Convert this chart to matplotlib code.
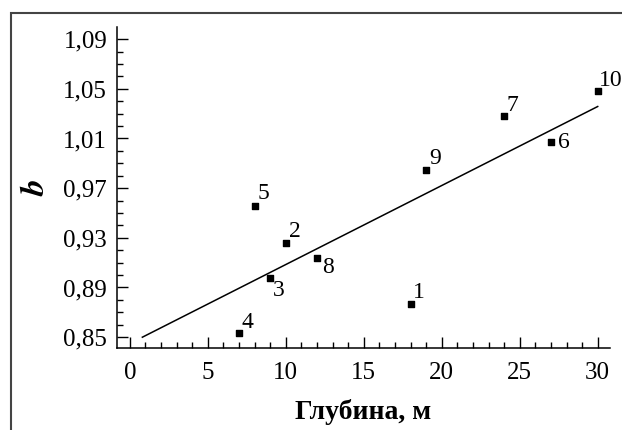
import numpy as np
import matplotlib
matplotlib.use("Agg")
import matplotlib.pyplot as plt
from matplotlib.patches import Rectangle
from matplotlib.ticker import MultipleLocator

########## data ##########
depth = [18, 10, 9, 7, 8, 27, 24, 12, 19, 30]
b_val = [0.877, 0.926, 0.898, 0.853, 0.956, 1.007, 1.028, 0.914, 0.985, 1.048]
labels = ["1", "2", "3", "4", "5", "6", "7", "8", "9", "10"]
# label offsets in points (dx, dy)
offsets = [(2, 8), (2, 8), (2, -9), (2, 8), (2, 9), (5, 0), (2, 8), (4, -7), (2, 8), (1, 8)]
fit_range = [0.8, 30]

x_ticks = [0, 5, 10, 15, 20, 25, 30]
y_ticks = [0.85, 0.89, 0.93, 0.97, 1.01, 1.05, 1.09]

plt.rcParams['font.family'] = ['Liberation Serif', 'DejaVu Serif']
plt.rcParams['mathtext.fontset'] = 'stix'

fig = plt.figure(figsize=(6.22, 4.30), dpi=100)
ax = fig.add_axes([0.188, 0.19, 0.793, 0.747])

# outer frame (cropped, only top and left visible)
fig.patches.append(Rectangle((11 / 622, -0.2), 1.2, 1.2 - 13 / 430,
                             transform=fig.transFigure, fill=False,
                             edgecolor='#444444', linewidth=1.5))

# regression line
coef = np.polyfit(depth, b_val, 1)
fx = np.array(fit_range)
ax.plot(fx, np.polyval(coef, fx), color='black', linewidth=1.1)

ax.scatter(depth, b_val, marker='s', s=22, color='black', zorder=3)
for x, y, t, (dx, dy) in zip(depth, b_val, labels, offsets):
    ax.annotate(t, (x, y), xytext=(dx, dy), textcoords='offset points',
                fontsize=17, ha='left', va='center')

ax.set_xlim(-0.83, 30.8)
ax.set_ylim(0.841, 1.0997)
ax.set_xticks(x_ticks)
ax.set_yticks(y_ticks)
ax.set_yticklabels([f"{v:.2f}".replace('.', ',') for v in y_ticks])
ax.xaxis.set_minor_locator(MultipleLocator(1))
ax.yaxis.set_minor_locator(MultipleLocator(0.01))
ax.tick_params(which='major', direction='in', length=8, width=1, labelsize=18)
ax.tick_params(axis='x', which='major', pad=10)
ax.tick_params(axis='y', which='major', pad=7)
ax.tick_params(which='minor', direction='in', length=4, width=1)
ax.tick_params(top=False, right=False)
for s in ['top', 'right']:
    ax.spines[s].set_visible(False)
for s in ['left', 'bottom']:
    ax.spines[s].set_linewidth(1.1)

ax.set_xlabel('Глубина, м', fontsize=20, fontweight='bold', labelpad=11)
ax.set_ylabel('$\\boldsymbol{b}$', fontsize=24, labelpad=9)

fig.savefig('out.png', dpi=100)
